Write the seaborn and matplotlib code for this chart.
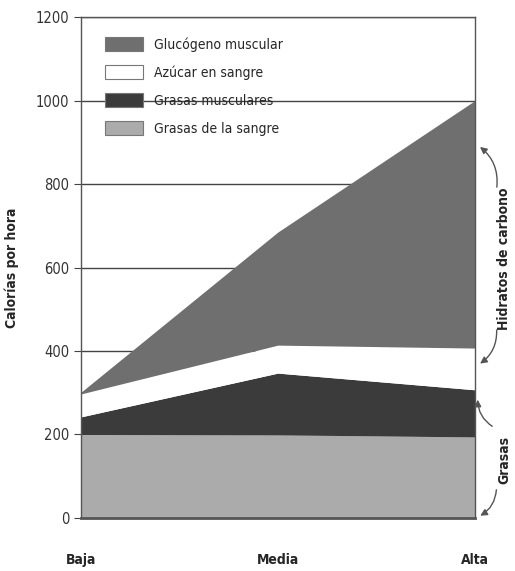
import numpy as np
import matplotlib
matplotlib.use("Agg")
import matplotlib.pyplot as plt
import seaborn as sns
from matplotlib.patches import Patch

# Data (calories per hour, stacked)
niveles = ["Baja", "Media", "Alta"]
grasas_sangre = [200, 199, 194]
grasas_musculares = [42, 148, 113]
azucar_sangre = [55, 67, 100]
glucogeno = [4, 271, 593]

capas = ["Grasas de la sangre", "Grasas musculares", "Azúcar en sangre", "Glucógeno muscular"]
colores = ["#ababab", "#3b3b3b", "#ffffff", "#6f6f6f"]
yticks = [0, 200, 400, 600, 800, 1000, 1200]

sns.set_style("white")
plt.rcParams["font.family"] = ["DejaVu Sans"]
plt.rcParams["font.stretch"] = "condensed"

fig = plt.figure(figsize=(5.15, 5.71), dpi=100)
ax = fig.add_axes([0.157, 0.093, 0.765, 0.877])

x = np.arange(len(niveles))
ax.stackplot(x, grasas_sangre, grasas_musculares, azucar_sangre, glucogeno,
             colors=colores, linewidth=0, zorder=2)

for v in yticks[1:]:
    ax.axhline(v, color="#444444", lw=1, zorder=1)

ax.set_xlim(0, 2)
ax.set_ylim(0, 1200)
ax.set_yticks(yticks)
ax.set_xticks(x)
ax.set_xticklabels(niveles, fontsize=10, fontweight="bold")
ax.tick_params(axis="x", length=6, pad=19, color="#444444")
ax.tick_params(axis="y", length=5, labelsize=10.5, color="#444444", left=True,
               labelcolor="#333333")
for s in ax.spines.values():
    s.set_color("#555555")
    s.set_linewidth(1)
ax.spines["bottom"].set_linewidth(2)
ax.spines["bottom"].set_zorder(3)
ax.set_ylabel("Calorías por hora", fontsize=10, fontweight="bold", labelpad=12)

handles = [Patch(facecolor=colores[i], edgecolor="#777777", lw=0.8) for i in [3, 2, 1, 0]]
ax.legend(handles, [capas[i] for i in [3, 2, 1, 0]], loc="upper left",
          bbox_to_anchor=(0.03, 0.985), frameon=False, fontsize=10,
          handlelength=2.7, handleheight=1.2, labelspacing=0.95, handletextpad=0.8)

arrow = dict(arrowstyle="-|>", color="#555555", lw=1)
ax.annotate("", xy=(2.015, 893), xytext=(2.11, 786), xycoords="data",
            arrowprops=dict(connectionstyle="arc3,rad=0.3", **arrow), annotation_clip=False)
ax.annotate("", xy=(2.015, 366), xytext=(2.11, 457), xycoords="data",
            arrowprops=dict(connectionstyle="arc3,rad=-0.3", **arrow), annotation_clip=False)
ax.annotate("", xy=(2.015, 290), xytext=(2.1, 216), xycoords="data",
            arrowprops=dict(connectionstyle="arc3,rad=-0.3", **arrow), annotation_clip=False)
ax.annotate("", xy=(2.015, 2), xytext=(2.11, 74), xycoords="data",
            arrowprops=dict(connectionstyle="arc3,rad=-0.3", **arrow), annotation_clip=False)
ax.text(2.15, 620, "Hidratos de carbono", rotation=90, ha="center", va="center",
        fontsize=10, fontweight="bold", clip_on=False)
ax.text(2.15, 140, "Grasas", rotation=90, ha="center", va="center",
        fontsize=10, fontweight="bold", clip_on=False)

fig.savefig("out.png", dpi=100)
